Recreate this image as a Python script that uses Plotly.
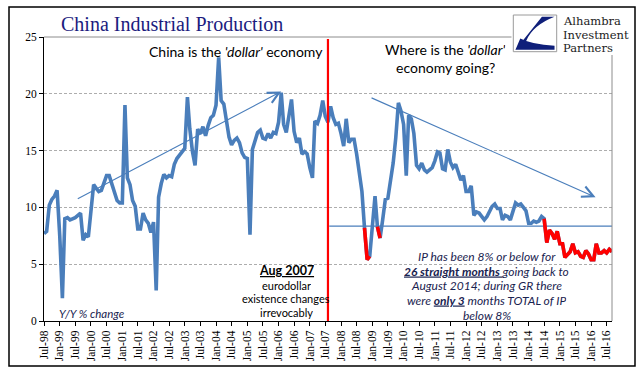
import pandas as pd
import plotly.graph_objects as go

# ---------------- data ----------------
start_month = "1998-07-01"
ip_yoy = [
    # 1998 Jul-Dec
    7.7, 7.9, 10.2, 10.7, 11.0, 11.5,
    # 1999
    7.5, 2.0, 9.0, 9.1, 8.9, 9.0, 9.1, 9.3, 9.5, 7.1, 7.6, 7.4,
    # 2000
    9.6, 12.0, 11.7, 11.4, 11.5, 12.1, 12.8, 12.8, 12.0, 11.3, 10.6, 10.4,
    # 2001
    10.4, 19.0, 12.6, 12.0, 10.6, 10.1, 8.1, 8.1, 9.5, 8.9, 8.6, 7.8,
    # 2002
    8.7, 2.7, 10.9, 12.1, 12.9, 12.6, 12.8, 12.7, 13.8, 14.3, 14.6, 14.9,
    # 2003
    15.2, 19.7, 16.9, 14.9, 13.7, 16.9, 16.5, 17.1, 16.3, 17.2, 17.9, 18.1,
    # 2004
    19.0, 23.2, 19.4, 19.1, 17.5, 16.2, 15.5, 15.9, 16.1, 15.7, 14.8, 14.4,
    # 2005
    14.3, 7.6, 15.1, 16.0, 16.6, 16.8, 16.1, 16.0, 16.5, 16.1, 16.6, 16.5,
    # 2006
    17.5, 20.1, 17.3, 16.6, 17.9, 19.5, 16.7, 15.7, 16.1, 14.7, 14.9, 14.7,
    # 2007
    13.5, 12.6, 17.6, 17.4, 18.1, 19.4, 18.0, 17.5, 18.9, 17.9, 17.3, 17.4,
    # 2008
    16.5, 15.4, 17.8, 15.7, 16.0, 16.0, 14.7, 12.8, 11.4, 8.2, 5.4, 5.7,
    # 2009
    8.6, 11.0, 8.3, 7.3, 8.9, 10.7, 10.8, 12.3, 13.9, 16.1, 19.2, 18.5,
    # 2010
    17.3, 12.8, 18.1, 17.8, 16.5, 13.7, 13.4, 13.9, 13.3, 13.1, 13.3, 13.5,
    # 2011
    14.1, 14.9, 14.8, 13.4, 13.3, 15.1, 14.0, 13.5, 13.8, 13.2, 12.4, 12.8,
    # 2012
    11.4, 11.4, 11.9, 9.3, 9.6, 9.5, 9.2, 8.9, 9.2, 9.6, 10.1, 10.3,
    # 2013
    9.9, 9.9, 8.9, 9.3, 9.2, 8.9, 9.7, 10.4, 10.2, 10.3, 10.0, 9.7,
    # 2014
    8.6, 8.6, 8.8, 8.7, 8.8, 9.2, 9.0, 6.9, 8.0, 7.7, 7.2, 7.9,
    # 2015
    6.8, 6.8, 5.6, 5.9, 6.1, 6.8, 6.0, 6.1, 5.7, 5.6, 6.2, 5.9,
    # 2016 Jan-Sep
    5.4, 5.4, 6.8, 6.0, 6.0, 6.2, 6.0, 6.3, 6.1,
]
red_ranges = [("2008-10-01", "2008-12-01"),
              ("2009-03-01", "2009-04-01"),
              ("2014-07-01", "2016-09-01")]
event_date = "2007-08-01"
threshold_level = 8.35
threshold_start = "2007-08-16"
y_ticks = [0, 5, 10, 15, 20, 25]
arrow1 = {"tail": ("1999-07-13", 10.7), "head": ("2006-02-01", 20.2)}
arrow2 = {"tail": ("2008-12-05", 19.7), "head": ("2016-02-22", 10.9)}
logo_words = ["Alhambra", "Investment", "Partners"]

months = pd.date_range(start_month, periods=len(ip_yoy), freq="MS")
red_vals = []
for d, v in zip(months, ip_yoy):
    inside = any(pd.Timestamp(a) <= d <= pd.Timestamp(b) for a, b in red_ranges)
    red_vals.append(v if inside else None)

# ---------------- geometry helpers ----------------
W, H = 641, 379
L, R, T, B = 44, 612, 37, 321


def px(x):
    return (x - L) / (R - L)


def py(y):
    return (B - y) / (B - T)


BLUE = "#4A7EBB"
NAVY_TXT = "#1a2350"

fig = go.Figure()
fig.add_trace(go.Scatter(x=months, y=ip_yoy, mode="lines",
                         line=dict(color=BLUE, width=3.6), hoverinfo="skip"))
fig.add_trace(go.Scatter(x=months, y=red_vals, mode="lines", connectgaps=False,
                         line=dict(color="#FF0000", width=3.6), hoverinfo="skip"))

fig.update_layout(
    width=W, height=H,
    margin=dict(l=L, r=W - R, t=T, b=H - B, autoexpand=False),
    paper_bgcolor="white", plot_bgcolor="white", showlegend=False,
    xaxis=dict(type="date", range=[months[0], months[-1]],
               tick0=start_month, dtick="M6", tickformat="%b-%y", tickangle=-90,
               ticks="outside", ticklen=4, tickcolor="black",
               showline=True, linecolor="black", linewidth=1,
               showgrid=False, zeroline=False,
               tickfont=dict(family="Liberation Serif", size=11.5, color="black")),
    yaxis=dict(range=[0, 25], tickvals=y_ticks,
               ticks="outside", ticklen=4, tickcolor="black",
               showline=True, linecolor="black", linewidth=1,
               showgrid=True, gridcolor="#ADADAD", griddash="3px,2px", gridwidth=1,
               zeroline=False,
               tickfont=dict(family="Liberation Serif", size=11.5, color="black")),
)

shapes = []
# outer chart border
shapes.append(dict(type="rect", xref="paper", yref="paper",
                   x0=px(9), x1=px(635), y0=py(366), y1=py(7),
                   line=dict(color="black", width=1.5), layer="above"))
# plot-area border (top & right)
shapes.append(dict(type="line", xref="paper", yref="paper", x0=0, x1=1, y0=1, y1=1,
                   line=dict(color="#8C8C8C", width=1), layer="above"))
shapes.append(dict(type="line", xref="paper", yref="paper", x0=1, x1=1, y0=0, y1=1,
                   line=dict(color="#8C8C8C", width=1), layer="above"))
# white area behind logo
shapes.append(dict(type="rect", xref="paper", yref="paper",
                   x0=px(511.5), x1=px(633), y0=py(55), y1=py(9),
                   fillcolor="white", line=dict(width=0), layer="above"))
# logo square
lx0, lx1, ly0, ly1 = 513.3, 556.7, 51.7, 15.0
shapes.append(dict(type="rect", xref="paper", yref="paper",
                   x0=px(lx0), x1=px(lx1), y0=py(ly0), y1=py(ly1),
                   fillcolor="white", line=dict(color="#9A9A9A", width=1), layer="above"))


def lp(u, v):
    return f"{px(lx0 + u * (lx1 - lx0)):.5f},{py(ly0 - v * (ly0 - ly1)):.5f}"


navy = "#0F1F7A"
pathA = (f"M {lp(0.05, 0.05)} L {lp(0.66, 0.95)} L {lp(0.95, 0.95)} "
         f"Q {lp(0.45, 0.72)} {lp(0.30, 0.30)} Z")
pathB = (f"M {lp(0.05, 0.05)} L {lp(0.95, 0.05)} L {lp(0.95, 0.16)} "
         f"Q {lp(0.42, 0.20)} {lp(0.16, 0.36)} Z")
for p in (pathA, pathB):
    shapes.append(dict(type="path", xref="paper", yref="paper", path=p,
                       fillcolor=navy, line=dict(width=0), layer="above"))
# red event line
shapes.append(dict(type="line", xref="x", yref="paper", x0=event_date, x1=event_date,
                   y0=0, y1=py(39), line=dict(color="#FF0000", width=2.2), layer="above"))
# 8% reference line
shapes.append(dict(type="line", xref="x", yref="y", x0=threshold_start, x1=months[-1],
                   y0=threshold_level, y1=threshold_level,
                   line=dict(color=BLUE, width=1.2), layer="between"))
fig.update_layout(shapes=shapes)

ann = []
for a in (arrow1, arrow2):
    ann.append(dict(x=a["head"][0], y=a["head"][1], ax=a["tail"][0], ay=a["tail"][1],
                    xref="x", yref="y", axref="x", ayref="y", text="",
                    showarrow=True, arrowhead=5, arrowsize=2, arrowwidth=1.1,
                    arrowcolor=BLUE))


def txt(text, x, y, size, family="Lato", color="black", xanchor="center", height=None,
        align="center"):
    d = dict(text=text, x=px(x), y=py(y), xref="paper", yref="paper",
             xanchor=xanchor, yanchor="middle", showarrow=False, align=align,
             font=dict(family=family, size=size, color=color))
    if height is not None:
        d["height"] = height
        d["valign"] = "middle"
    ann.append(d)


txt("China Industrial Production", 171.5, 24, 20, family="Liberation Serif", color="#1b1b7e")
txt("China is the <i>'dollar'</i> economy", 236, 51, 14)
txt("Where is the <i>'dollar'</i>", 445, 49, 14, height=17)
txt("economy going?", 445, 68, 14, height=17)
txt("<i>Y/Y % change</i>", 92, 313, 11.5, color=NAVY_TXT)
txt("<b><u>Aug 2007</u></b>", 286, 270, 12.5, height=15)
txt("eurodollar", 286, 285, 11, height=13)
txt("existence changes", 286, 298.5, 11, height=13)
txt("irrevocably", 286, 312, 11, height=13)
red_lines = [
    "<i>IP has been 8% or below for</i>",
    "<i><b><u>26 straight months </u></b>going back to</i>",
    "<i>August 2014; during GR there</i>",
    "<i>were <b><u>only 3</u></b> months TOTAL of IP</i>",
    "<i>below 8%</i>",
]
for i, s in enumerate(red_lines):
    txt(s, 486.7, 256 + i * 14.7, 12, color=NAVY_TXT, height=14)
# logo wordmark
for i, w in enumerate(logo_words):
    txt(w, 560.5, 20.8 + i * 13.6, 11.5, family="DejaVu Serif", color="#222222",
        xanchor="left", height=13, align="left")

fig.update_layout(annotations=ann)
fig.write_html("out.html", config={"displayModeBar": False},
               post_script="document.body.style.margin='0px';document.body.style.padding='0px';")
